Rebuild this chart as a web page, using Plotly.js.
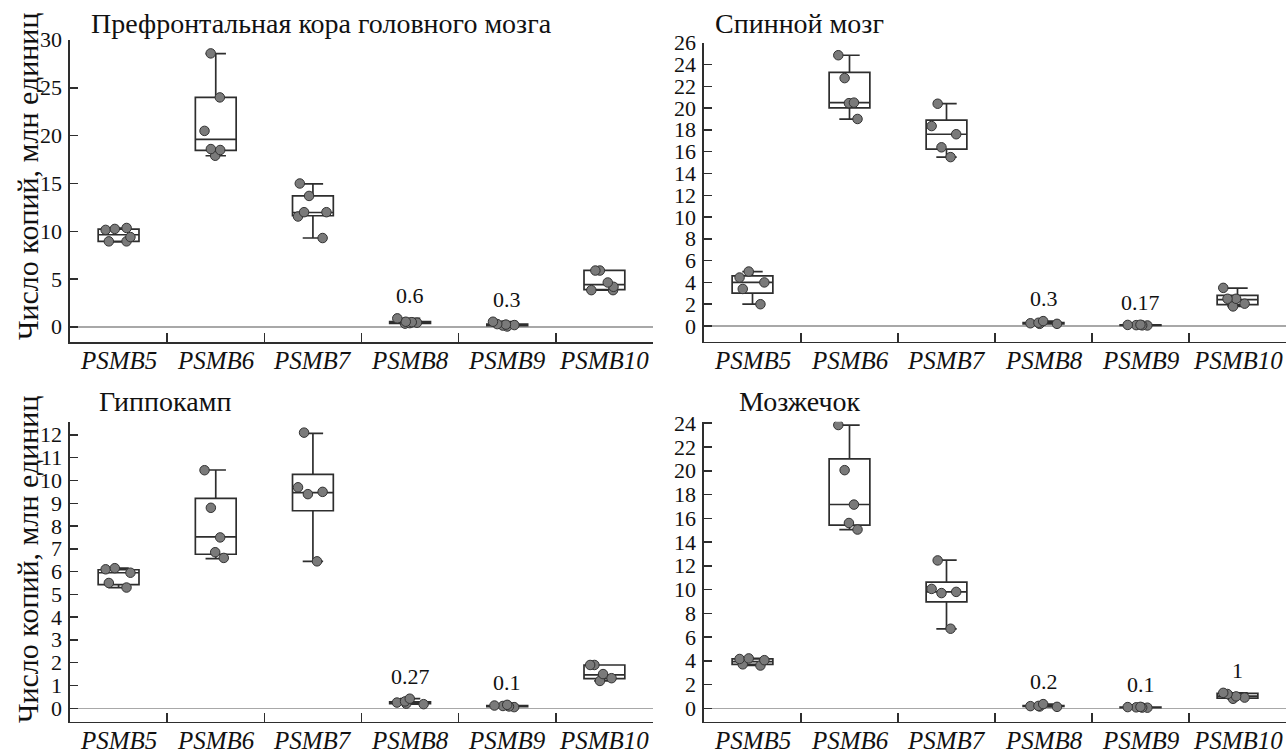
<!DOCTYPE html>
<html>
<head>
<meta charset="utf-8">
<script src="https://cdn.plot.ly/plotly-3.0.1.min.js"></script>
<style>html,body{margin:0;padding:0;background:#fff;}#chart{width:1288px;height:753px;}</style>
</head>
<body>
<div id="chart"></div>
<script>
// ---------- DATA ----------
const categories = ['PSMB5', 'PSMB6', 'PSMB7', 'PSMB8', 'PSMB9', 'PSMB10'];

const panelTitles = ['Префронтальная кора головного мозга', 'Спинной мозг', 'Гиппокамп', 'Мозжечок'];
const yAxisTitle = 'Число копий, млн единиц';

// Prefrontal cortex
const cortexTicks = [0, 5, 10, 15, 20, 25, 30];
const cortexPoints = [
  [10.15, 10.25, 10.35, 8.95, 8.95, 9.4],
  [28.6, 24.0, 20.5, 18.5, 18.6, 17.9],
  [15.0, 13.7, 12.0, 11.55, 12.0, 9.3],
  [0.35, 0.45, 0.5, 0.9, 0.4, 0.55],
  [0.05, 0.25, 0.3, 0.55, 0.2, 0.15],
  [5.9, 5.9, 4.65, 4.2, 3.85, 3.85]
];
const cortexLow    = [8.9, 17.9, 9.3, 0.35, 0.05, 3.85];
const cortexQ1     = [8.95, 18.46, 11.63, 0.38, 0.15, 3.9];
const cortexMedian = [9.64, 19.61, 11.97, 0.45, 0.22, 4.42];
const cortexQ3     = [10.23, 24.0, 13.71, 0.55, 0.3, 5.92];
const cortexHigh   = [10.34, 28.57, 14.97, 0.9, 0.55, 5.92];
const cortexNotes  = [null, null, null, '0.6', '0.3', null];

// Spinal cord
const spinalTicks = [0, 2, 4, 6, 8, 10, 12, 14, 16, 18, 20, 22, 24, 26];
const spinalPoints = [
  [5.0, 4.45, 4.0, 3.4, 2.0],
  [24.85, 22.75, 20.45, 20.5, 19.0],
  [20.4, 18.35, 17.6, 16.4, 15.5],
  [0.25, 0.45, 0.2, 0.3, 0.2],
  [0.05, 0.1, 0.08, 0.12, 0.06],
  [3.5, 2.5, 2.05, 1.8, 2.5]
];
const spinalLow    = [2.0, 18.98, 15.5, 0.2, 0.05, 1.8];
const spinalQ1     = [3.02, 20.01, 16.23, 0.2, 0.06, 1.96];
const spinalMedian = [4.0, 20.5, 17.6, 0.27, 0.08, 2.42];
const spinalQ3     = [4.6, 23.28, 18.9, 0.32, 0.1, 2.81];
const spinalHigh   = [5.0, 24.85, 20.4, 0.45, 0.12, 3.48];
const spinalNotes  = [null, null, null, '0.3', '0.17', null];

// Hippocampus
const hippoTicks = [0, 1, 2, 3, 4, 5, 6, 7, 8, 9, 10, 11, 12];
const hippoPoints = [
  [6.1, 6.15, 5.95, 5.5, 5.3],
  [10.45, 8.8, 7.5, 6.85, 6.6],
  [12.1, 9.7, 9.4, 9.5, 6.45],
  [0.18, 0.42, 0.2, 0.25, 0.3],
  [0.05, 0.15, 0.08, 0.1, 0.12],
  [1.9, 1.9, 1.32, 1.5, 1.2]
];
const hippoLow    = [5.3, 6.57, 6.45, 0.18, 0.05, 1.2];
const hippoQ1     = [5.43, 6.76, 8.67, 0.2, 0.07, 1.3];
const hippoMedian = [5.95, 7.52, 9.47, 0.24, 0.1, 1.47];
const hippoQ3     = [6.08, 9.21, 10.27, 0.28, 0.12, 1.9];
const hippoHigh   = [6.15, 10.46, 12.07, 0.42, 0.15, 1.9];
const hippoNotes  = [null, null, null, '0.27', '0.1', null];

// Cerebellum
const cerebTicks = [0, 2, 4, 6, 8, 10, 12, 14, 16, 18, 20, 22, 24];
const cerebPoints = [
  [4.15, 4.2, 4.05, 3.7, 3.6],
  [23.85, 20.05, 17.15, 15.6, 15.05],
  [12.45, 10.05, 9.7, 9.8, 6.7],
  [0.15, 0.35, 0.18, 0.2, 0.12],
  [0.05, 0.1, 0.08, 0.12, 0.06],
  [1.2, 1.3, 0.8, 0.9, 1.0]
];
const cerebLow    = [3.6, 15.04, 6.69, 0.12, 0.05, 0.8];
const cerebQ1     = [3.69, 15.42, 8.96, 0.15, 0.06, 0.85];
const cerebMedian = [3.93, 17.16, 9.8, 0.18, 0.08, 1.02];
const cerebQ3     = [4.16, 21.0, 10.62, 0.22, 0.1, 1.25];
const cerebHigh   = [4.2, 23.85, 12.48, 0.35, 0.12, 1.3];
const cerebNotes  = [null, null, null, '0.2', '0.1', '1'];

// ---------- BUILD ----------
const panels = [
  {ticks: cortexTicks, pts: cortexPoints, low: cortexLow, q1: cortexQ1, med: cortexMedian, q3: cortexQ3, high: cortexHigh, notes: cortexNotes},
  {ticks: spinalTicks, pts: spinalPoints, low: spinalLow, q1: spinalQ1, med: spinalMedian, q3: spinalQ3, high: spinalHigh, notes: spinalNotes},
  {ticks: hippoTicks, pts: hippoPoints, low: hippoLow, q1: hippoQ1, med: hippoMedian, q3: hippoQ3, high: hippoHigh, notes: hippoNotes},
  {ticks: cerebTicks, pts: cerebPoints, low: cerebLow, q1: cerebQ1, med: cerebMedian, q3: cerebQ3, high: cerebHigh, notes: cerebNotes}
];

const W = 1288, H = 753;
const px = v => v / W;
const py = v => 1 - v / H;

// plot-area geometry (pixels)
const geom = [
  {x0: 70, x1: 653, top: 40, bottom: 342, yr: [-1.57, 30], labelY: 360},
  {x0: 704, x1: 1286, top: 42.7, bottom: 341.7, yr: [-1.44, 26], labelY: 360},
  {x0: 70, x1: 653, top: 421.7, bottom: 721.7, yr: [-0.59, 12.58], labelY: 740},
  {x0: 704, x1: 1286, top: 421.7, bottom: 721.7, yr: [-1.13, 24.13], labelY: 740}
];
const titlePos = [
  {x: 89, y: 24}, {x: 713, y: 24}, {x: 97, y: 401}, {x: 737, y: 401}
];

const ink = '#2e2e2e';
const serif = 'Liberation Serif, Times New Roman, serif';

const data = [];
const annotations = [];
const layout = {
  width: W, height: H,
  margin: {l: 0, r: 0, t: 0, b: 0},
  paper_bgcolor: '#ffffff',
  plot_bgcolor: '#ffffff',
  showlegend: false,
  boxmode: 'overlay',
  font: {family: serif, color: '#111111'},
  annotations: annotations
};

panels.forEach((p, i) => {
  const n = i + 1;
  const xs = n === 1 ? 'x' : 'x' + n;
  const ys = n === 1 ? 'y' : 'y' + n;
  const g = geom[i];

  data.push({
    type: 'box',
    x: categories,
    q1: p.q1, median: p.med, q3: p.q3,
    lowerfence: p.low, upperfence: p.high,
    boxpoints: false,
    width: 0.42,
    whiskerwidth: 0.5,
    line: {color: ink, width: 1.7},
    fillcolor: 'rgba(255,255,255,0)',
    xaxis: xs, yaxis: ys,
    hoverinfo: 'skip'
  });

  const px_ = [], py_ = [];
  p.pts.forEach((arr, k) => arr.forEach(v => { px_.push(categories[k]); py_.push(v); }));
  data.push({
    type: 'box',
    x: px_, y: py_,
    boxpoints: 'all',
    jitter: 0.75,
    pointpos: 0,
    width: 0.42,
    line: {color: 'rgba(0,0,0,0)', width: 0},
    fillcolor: 'rgba(0,0,0,0)',
    marker: {color: '#7a7a7a', size: 9.5, line: {color: '#333333', width: 1}},
    xaxis: xs, yaxis: ys,
    hoverinfo: 'skip'
  });

  layout['xaxis' + (n === 1 ? '' : n)] = {
    domain: [px(g.x0), px(g.x1)],
    anchor: ys,
    type: 'category',
    categoryorder: 'array', categoryarray: categories,
    range: [-0.5, 5.5],
    showline: true, linecolor: ink, linewidth: 1.7,
    ticks: 'inside', tickson: 'boundaries', ticklen: 9, tickwidth: 1.5, tickcolor: ink,
    showgrid: false, zeroline: false,
    showticklabels: false,
    fixedrange: true
  };
  layout['yaxis' + (n === 1 ? '' : n)] = {
    domain: [py(g.bottom), py(g.top)],
    anchor: xs,
    range: g.yr,
    tickmode: 'array', tickvals: p.ticks,
    showline: true, linecolor: ink, linewidth: 1.7,
    ticks: 'inside', ticklen: 8, tickwidth: 1.5, tickcolor: ink,
    showgrid: false,
    zeroline: true, zerolinecolor: '#a8a8a8', zerolinewidth: 1.5,
    showticklabels: false,
    fixedrange: true
  };

  // y tick labels
  p.ticks.forEach(v => {
    annotations.push({
      xref: 'paper', yref: ys,
      x: px(g.x0 - 7), y: v,
      xanchor: 'right', yanchor: 'middle',
      text: String(v), showarrow: false,
      borderpad: 0,
      font: {family: serif, size: 22, color: '#111111'}
    });
  });

  // category labels under the x axis
  categories.forEach(c => {
    annotations.push({
      xref: xs, yref: 'paper',
      x: c, y: py(g.labelY),
      xanchor: 'center', yanchor: 'middle',
      text: c, showarrow: false,
      font: {family: serif, size: 25, color: '#111111', style: 'italic'}
    });
  });

  annotations.push({
    xref: 'paper', yref: 'paper',
    x: px(titlePos[i].x), y: py(titlePos[i].y),
    xanchor: 'left', yanchor: 'middle',
    text: panelTitles[i], showarrow: false,
    font: {family: serif, size: 28, color: '#111111'}
  });

  p.notes.forEach((t, k) => {
    if (!t) return;
    annotations.push({
      xref: xs, yref: ys,
      x: categories[k], y: Math.max.apply(null, p.pts[k]),
      xanchor: 'center', yanchor: 'bottom', yshift: 8,
      text: t, showarrow: false,
      font: {family: serif, size: 22, color: '#111111'}
    });
  });
});

// Y-axis titles (left column)
[177, 560].forEach(cy => {
  annotations.push({
    xref: 'paper', yref: 'paper',
    x: px(27), y: py(cy),
    xanchor: 'center', yanchor: 'middle',
    textangle: -90,
    text: yAxisTitle, showarrow: false,
    font: {family: serif, size: 30, color: '#111111'}
  });
});

Plotly.newPlot('chart', data, layout, {displayModeBar: false, staticPlot: true});
</script>
</body>
</html>
